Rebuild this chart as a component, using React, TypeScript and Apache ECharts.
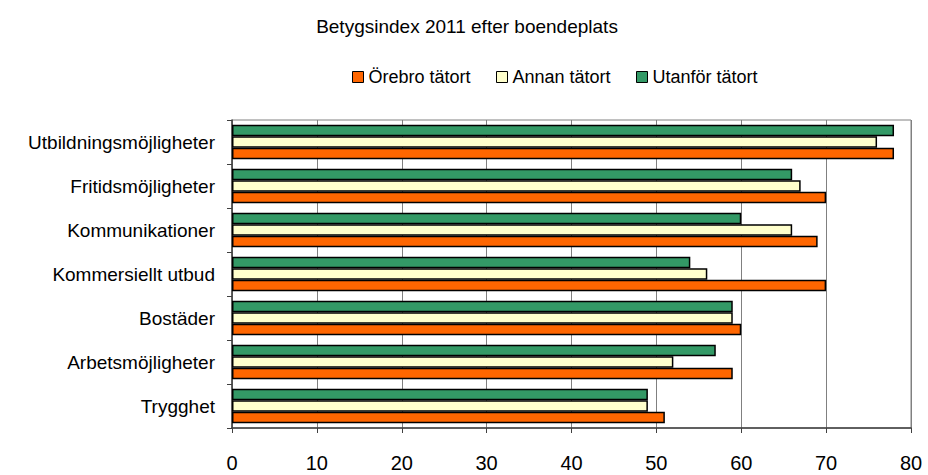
import React, { useEffect, useRef } from "react";
import * as echarts from "echarts";

const categories = [
  "Utbildningsmöjligheter",
  "Fritidsmöjligheter",
  "Kommunikationer",
  "Kommersiellt utbud",
  "Bostäder",
  "Arbetsmöjligheter",
  "Trygghet",
];
const seriesNames = ["Örebro tätort", "Annan tätort", "Utanför tätort"];
const orebro = [78, 70, 69, 70, 60, 59, 51];
const annan = [76, 67, 66, 56, 59, 52, 49];
const utanfor = [78, 66, 60, 54, 59, 57, 49];
const colors = ["#FF6600", "#FFFFCC", "#339966"];
const xTicks = [0, 10, 20, 30, 40, 50, 60, 70, 80];
const legendLefts = [352, 496, 636];

const FONT = "'Liberation Sans', Arial, sans-serif";

export default function App() {
  const ref = useRef<HTMLDivElement>(null);
  useEffect(() => {
    document.body.style.margin = "0";
    const chart = echarts.init(ref.current!, null, { renderer: "svg" });
    const values = [orebro, annan, utanfor];
    const mk = (i: number) => ({
      name: seriesNames[i],
      type: "bar" as const,
      data: values[i],
      barGap: "0%",
      barCategoryGap: "22%",
      itemStyle: { color: colors[i], borderColor: "#000", borderWidth: 1.5 },
    });
    chart.setOption({
      animation: false,
      textStyle: { fontFamily: FONT, color: "#000" },
      title: {
        text: "Betygsindex 2011 efter boendeplats",
        left: 462,
        textAlign: "center",
        top: 12,
        textStyle: { fontFamily: FONT, fontSize: 19, fontWeight: "normal", color: "#000" },
      },
      legend: seriesNames.map((n, i) => ({
        data: [n],
        left: legendLefts[i],
        top: 68,
        itemWidth: 11,
        itemHeight: 11,
        itemGap: 5,
        padding: 0,
        icon: "rect",
        textStyle: { fontFamily: FONT, fontSize: 18, color: "#000", padding: [0, 0, 0, 0] },
        itemStyle: { borderColor: "#000", borderWidth: 1 },
      })),
      grid: {
        left: 232,
        right: 17,
        top: 120,
        bottom: 47,
        show: true,
        borderColor: "#808080",
        borderWidth: 1,
        containLabel: false,
      },
      xAxis: {
        type: "value",
        min: 0,
        max: 80,
        interval: 10,
        axisLine: { show: true, lineStyle: { color: "#404040", width: 1.5 } },
        axisTick: { show: true, length: 5, lineStyle: { color: "#404040" } },
        axisLabel: {
          fontFamily: FONT,
          fontSize: 20,
          color: "#000",
          margin: 25,
          formatter: (v: number) => (xTicks.includes(v) ? String(v) : ""),
        },
        splitLine: { show: true, lineStyle: { color: "#808080", width: 1 } },
      },
      yAxis: {
        type: "category",
        data: categories,
        inverse: true,
        axisLine: { show: true, lineStyle: { color: "#404040", width: 1.5 } },
        axisTick: { show: true, length: 5, alignWithLabel: false, lineStyle: { color: "#404040" } },
        axisLabel: { fontFamily: FONT, fontSize: 19, color: "#000", margin: 17 },
        splitLine: { show: false },
      },
      series: [mk(2), mk(1), mk(0)],
    });
    return () => chart.dispose();
  }, []);
  return <div ref={ref} style={{ width: 928, height: 475 }} />;
}
